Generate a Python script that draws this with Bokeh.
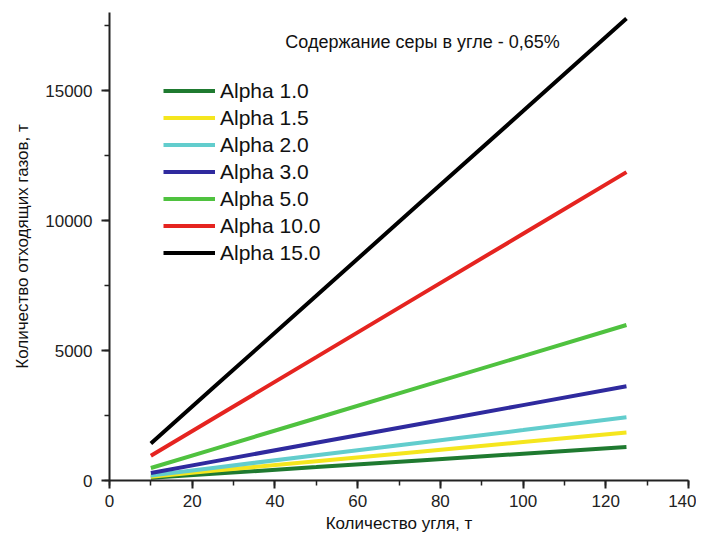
from bokeh.plotting import figure
from bokeh.models import Range1d, SingleIntervalTicker, Legend, LegendItem, Label
from bokeh.embed import file_html
from bokeh.resources import INLINE

coal_t = [10, 25, 50, 75, 100, 125]
series_names = ["Alpha 1.0", "Alpha 1.5", "Alpha 2.0", "Alpha 3.0", "Alpha 5.0", "Alpha 10.0", "Alpha 15.0"]
gas_a1_0 = [103, 258, 515, 773, 1030, 1285]
gas_a1_5 = [148, 370, 740, 1110, 1480, 1850]
gas_a2_0 = [194, 485, 970, 1455, 1940, 2430]
gas_a3_0 = [290, 725, 1450, 2175, 2900, 3625]
gas_a5_0 = [480, 1200, 2395, 3590, 4785, 5980]
gas_a10_0 = [950, 2375, 4745, 7120, 9490, 11860]
gas_a15_0 = [1420, 3555, 7105, 10660, 14210, 17770]
series_values = [gas_a1_0, gas_a1_5, gas_a2_0, gas_a3_0, gas_a5_0, gas_a10_0, gas_a15_0]
colors = ["#1f7a30", "#f5e61e", "#62cdcd", "#2f2a9e", "#4fc23f", "#e52420", "#000000"]

title_text = "Содержание серы в угле - 0,65%"
x_label = "Количество угля, т"
y_label = "Количество отходящих газов, т"

FONT = "Liberation Sans"

p = figure(frame_width=579, frame_height=468,
           min_border_left=109, min_border_right=8, min_border_top=12, min_border_bottom=59,
           x_range=Range1d(0, 140), y_range=Range1d(0, 18000),
           output_backend="svg", toolbar_location=None)
p.outline_line_color = None
p.xgrid.visible = False
p.ygrid.visible = False
p.background_fill_color = "white"
p.border_fill_color = "white"

for ax, interval in ((p.xaxis[0], 20), (p.yaxis[0], 5000)):
    ax.ticker = SingleIntervalTicker(interval=interval, num_minor_ticks=2)
    ax.axis_line_width = 2
    ax.axis_line_color = "#222222"
    ax.major_tick_line_color = "#222222"
    ax.minor_tick_line_color = "#222222"
    ax.major_tick_line_width = 2
    ax.minor_tick_line_width = 1.5
    ax.major_tick_out = 8
    ax.major_tick_in = 0
    ax.minor_tick_out = 5
    ax.minor_tick_in = 0
    ax.major_label_text_font = FONT
    ax.major_label_text_font_size = "17px"
    ax.major_label_text_color = "#222222"
    ax.axis_label_text_font = FONT
    ax.axis_label_text_font_size = "17px"
    ax.axis_label_text_font_style = "normal"
    ax.axis_label_text_color = "#111111"

p.xaxis[0].major_label_standoff = 6
p.xaxis[0].axis_label = x_label
p.xaxis[0].axis_label_standoff = 4
p.yaxis[0].major_label_standoff = 9
p.yaxis[0].axis_label = y_label
p.yaxis[0].axis_label_standoff = 10

items = []
for name, vals, col in zip(series_names, series_values, colors):
    r = p.line(coal_t, vals, line_color=col, line_width=4)
    items.append(LegendItem(label=name, renderers=[r]))

legend = Legend(items=items, location=(54, 214), padding=0, margin=0, spacing=0,
                glyph_width=52, glyph_height=27, label_height=27, label_standoff=5,
                label_text_font=FONT, label_text_font_size="21px", label_text_color="#111111",
                border_line_color=None, background_fill_alpha=0)
p.add_layout(legend, "center")

p.add_layout(Label(x=75.7, y=16850, text=title_text, text_align="center", text_baseline="middle",
                   text_font=FONT, text_font_size="18px", text_color="#111111"))

open("out.html", "w").write(file_html(p, INLINE))
